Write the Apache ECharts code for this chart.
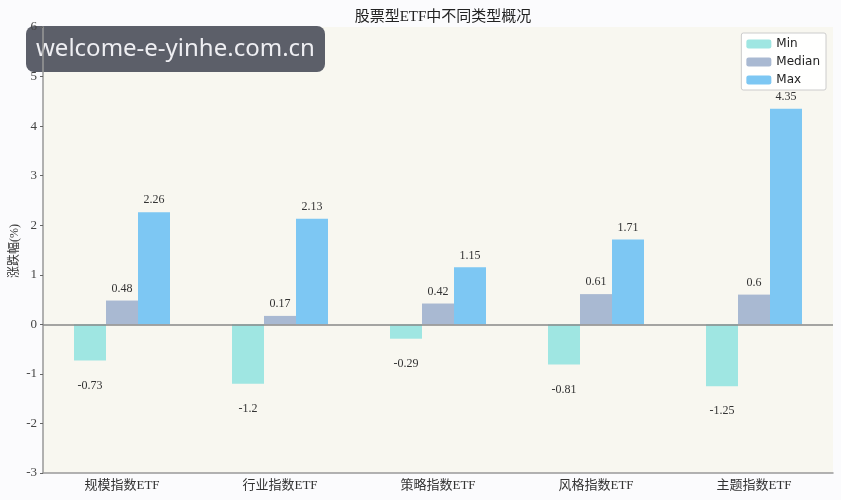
<!DOCTYPE html>
<html><head><meta charset="utf-8">
<script src="https://cdn.jsdelivr.net/npm/echarts@6/dist/echarts.min.js"></script>
<style>html,body{margin:0;padding:0;background:#fbfbfd;}#c{width:841px;height:500px;}</style>
</head><body><div id="c"></div>
<script>
const categories = ['规模指数ETF','行业指数ETF','策略指数ETF','风格指数ETF','主题指数ETF'];
const minVals = [-0.73, -1.2, -0.29, -0.81, -1.25];
const medianVals = [0.48, 0.17, 0.42, 0.61, 0.6];
const maxVals = [2.26, 2.13, 1.15, 1.71, 4.35];
const seriesNames = ['Min','Median','Max'];
const yAxisName = '涨跌幅(%)';
const colors = ['#9fe6e2','#a9b9d2','#7dc7f3'];
const serif = "'Liberation Serif','Noto Sans CJK SC',serif";

function labelFor(v){
  return {show:true, position: v<0?'bottom':'top', distance: v<0?19:6,
    fontFamily: serif, fontSize: 12, color:'#333'};
}
function mk(name, vals, color){
  return {name, type:'bar', barWidth:32, barGap:'0%', itemStyle:{color},
    data: vals.map(v=>({value:v, label:labelFor(v)})), silent:true};
}
const chart = echarts.init(document.getElementById('c'));
chart.setOption({
  backgroundColor:'#fbfbfd',
  animation:false,
  title:{text:'股票型ETF中不同类型概况', left:438, top:5, textAlign:'center',
    textStyle:{fontFamily:serif, fontSize:15, fontWeight:'normal', color:'#222'}},
  grid:{left:43, right:8, top:27, bottom:27, show:true, backgroundColor:'#f8f7f0', borderWidth:0,
    containLabel:false, outerBoundsMode:'none'},
  legend:{data:seriesNames, orient:'vertical', right:15, top:33, itemWidth:25, itemHeight:9, itemGap:6,
    backgroundColor:'rgba(255,255,255,0.9)', borderColor:'#ccc', borderWidth:1, borderRadius:2,
    padding:[5,6,4,5], textStyle:{fontFamily:'DejaVu Sans', fontSize:12, color:'#222'}},
  xAxis:{type:'category', data:categories,
    axisLine:{lineStyle:{color:'#999', width:1.5}, onZero:false},
    axisTick:{alignWithLabel:true, inside:true, length:3, lineStyle:{color:'#666'}},
    axisLabel:{fontFamily:serif, fontSize:13, color:'#333', margin:6}},
  yAxis:{type:'value', min:-3, max:6, interval:1,
    axisLine:{show:true, lineStyle:{color:'#999', width:1.5}},
    axisTick:{show:true, length:3, lineStyle:{color:'#666'}},
    axisLabel:{fontFamily:serif, fontSize:13, color:'#444', margin:6},
    splitLine:{show:false}},
  series:[
    mk('Min', minVals, colors[0]),
    mk('Median', medianVals, colors[1]),
    Object.assign(mk('Max', maxVals, colors[2]), {
      markLine:{silent:true, symbol:'none', label:{show:false},
        lineStyle:{color:'#888', width:1.5, type:'solid'}, data:[{yAxis:0}]}})
  ],
  graphic:[
    {type:'text', x:15, y:251, rotation:Math.PI/2, z:50,
      style:{text:yAxisName, fill:'#333', font:"12px "+serif, align:'center', verticalAlign:'middle'}},
    {type:'group', left:26, top:26, z:100, children:[
      {type:'rect', shape:{x:0,y:0,width:299,height:46,r:8}, style:{fill:'rgba(80,83,95,0.93)'}},
      {type:'text', style:{x:10, y:23, text:'welcome-e-yinhe.com.cn', fill:'#eeeef2',
        font:"24px 'Noto Sans', 'Open Sans', sans-serif", verticalAlign:'middle'}}
    ]}]
});
</script></body></html>
